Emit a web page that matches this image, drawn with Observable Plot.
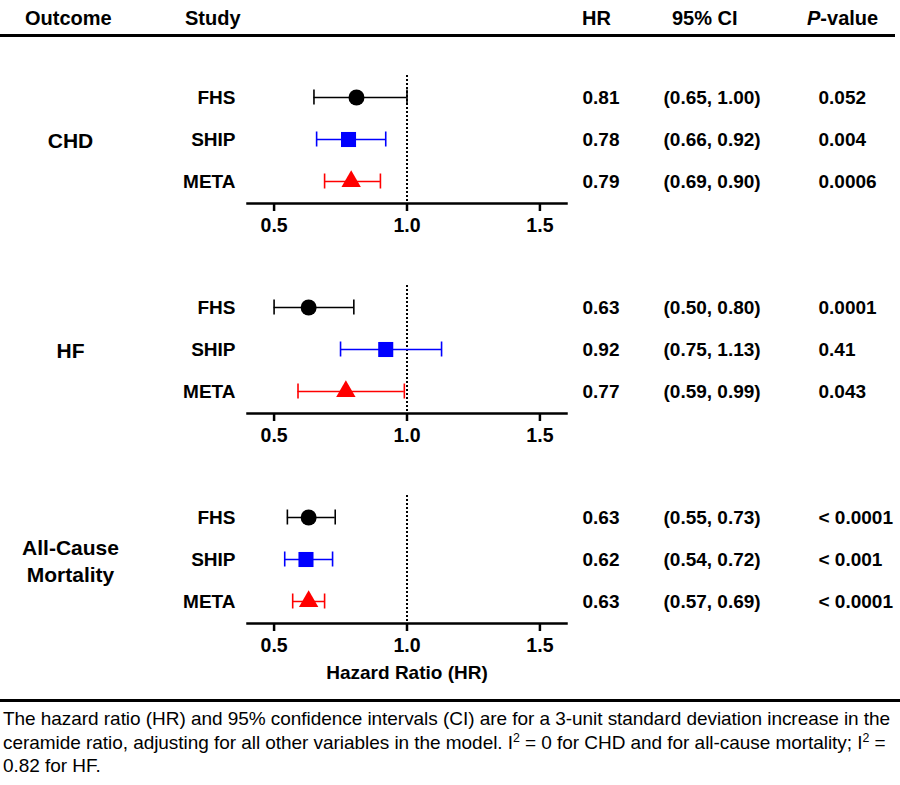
<!DOCTYPE html>
<html><head><meta charset="utf-8">
<script src="https://cdn.jsdelivr.net/npm/d3@7"></script>
<script src="https://cdn.jsdelivr.net/npm/@observablehq/plot@0.6"></script>
<style>
body{margin:0;background:#fff;}
#root{position:relative;width:900px;height:785px;font-family:"Liberation Sans",Arial,sans-serif;color:#000;overflow:hidden;}
.hd{position:absolute;top:7px;font-weight:bold;font-size:20px;line-height:22px;white-space:nowrap;}
.rule{position:absolute;left:0;background:#000;}
.panel{position:absolute;left:0;}
.panel svg{display:block;}
#caption{position:absolute;left:3px;top:707px;font-size:19px;line-height:23.5px;white-space:nowrap;letter-spacing:-0.05px;}
#caption sup{font-size:0.65em;line-height:0;vertical-align:0.55em;}
</style></head><body><div id="root"></div>
<script>
// ---- data ----
const outcomes = ["CHD", "HF", "All-Cause\nMortality"];
const studies = ["FHS", "SHIP", "META"];
const hrValues = [[0.81, 0.78, 0.79], [0.63, 0.92, 0.77], [0.63, 0.62, 0.63]];
const ciLow = [[0.65, 0.66, 0.69], [0.50, 0.75, 0.59], [0.55, 0.54, 0.57]];
const ciHigh = [[1.00, 0.92, 0.90], [0.80, 1.13, 0.99], [0.73, 0.72, 0.69]];
const pValues = [["0.052", "0.004", "0.0006"], ["0.0001", "0.41", "0.043"], ["< 0.0001", "< 0.001", "< 0.0001"]];
const xTicks = [0.5, 1.0, 1.5];
const headers = ["Outcome", "Study", "HR", "95% CI", "<i>P</i>-value"];
const xLabel = "Hazard Ratio (HR)";
const captionLines = [
  "The hazard ratio (HR) and 95% confidence intervals (CI) are for a 3-unit standard deviation increase in the",
  "ceramide ratio, adjusting for all other variables in the model. I<sup>2</sup> = 0 for CHD and for all-cause mortality; I<sup>2</sup> =",
  "0.82 for HF."
];

// ---- layout ----
const root = document.getElementById("root");
const headerX = [25, 185, 582, 672, 807];
headers.forEach((h, i) => {
  const s = document.createElement("span");
  s.className = "hd"; s.style.left = headerX[i] + "px"; s.innerHTML = h;
  root.appendChild(s);
});
const topRule = document.createElement("div");
topRule.className = "rule"; topRule.style.top = "34px"; topRule.style.height = "3px"; topRule.style.width = "895px";
root.appendChild(topRule);

const fontFamily = '"Liberation Sans", Arial, sans-serif';
const colors = ["#000000", "#0000ff", "#ff0000"];
const symbols = ["circle", "square", "triangle"];
const symbolR = [8, 8.5, 7.2];

function panel(k, height, withLabel) {
  const rows = studies.map((s, j) => ({
    study: s, hr: hrValues[k][j], lo: ciLow[k][j], hi: ciHigh[k][j],
    hrText: hrValues[k][j].toFixed(2),
    ciText: `(${ciLow[k][j].toFixed(2)}, ${ciHigh[k][j].toFixed(2)})`,
    p: pValues[k][j]
  }));
  const frameLeft = 247;
  const marks = [
    Plot.ruleX([1], {strokeDasharray: "2,2", strokeWidth: 2, stroke: "#000"}),
    Plot.frame({anchor: "bottom", strokeWidth: 2.5, stroke: "#000"}),
    Plot.axisX({ticks: xTicks, tickFormat: d3.format(".1f"), tickSize: 8, tickPadding: 7, strokeWidth: 2.5, label: null, fontSize: 19.5, fontWeight: "bold"}),
    Plot.axisY({tickSize: 0, tickPadding: 12, label: null, fontSize: 19, fontWeight: "bold"}),
    Plot.ruleY(rows, {y: "study", x1: "lo", x2: "hi", stroke: "study", strokeWidth: 1.6}),
    Plot.tickX(rows, {x: "lo", y: "study", stroke: "study", strokeWidth: 1.6, insetTop: 13.5, insetBottom: 13.5}),
    Plot.tickX(rows, {x: "hi", y: "study", stroke: "study", strokeWidth: 1.6, insetTop: 13.5, insetBottom: 13.5}),
    ...studies.map((s, j) => Plot.dot(rows.filter(d => d.study === s), {x: "hr", y: "study", symbol: symbols[j], r: symbolR[j], fill: "study", stroke: "none"})),
    Plot.text([outcomes[k]], {frameAnchor: "left", dx: 70 - frameLeft, textAnchor: "middle", fontSize: 21, fontWeight: "bold", lineHeight: 1.3}),
    Plot.text(rows, {y: "study", text: "hrText", frameAnchor: "left", dx: 582 - frameLeft, textAnchor: "start", fontSize: 19, fontWeight: "bold"}),
    Plot.text(rows, {y: "study", text: "ciText", frameAnchor: "left", dx: 663 - frameLeft, textAnchor: "start", fontSize: 19, fontWeight: "bold"}),
    Plot.text(rows, {y: "study", text: "p", frameAnchor: "left", dx: 818 - frameLeft, textAnchor: "start", fontSize: 19, fontWeight: "bold"})
  ];
  if (withLabel) marks.push(Plot.text([xLabel], {frameAnchor: "bottom", dy: 49, fontSize: 19, fontWeight: "bold", lineAnchor: "middle"}));
  return Plot.plot({
    width: 900, height,
    marginLeft: frameLeft, marginRight: 900 - 566, marginTop: 35, marginBottom: height - 163,
    x: {domain: [0.4, 1.6]},
    y: {type: "band", domain: studies, padding: 0},
    color: {domain: studies, range: colors},
    style: {fontFamily, fontSize: "19px", fontWeight: "bold", color: "#000", background: "transparent", overflow: "visible"},
    marks
  });
}

const panelHeights = [210, 210, 240];
let panelTop = 40;
panelHeights.forEach((h, k) => {
  const d = document.createElement("div");
  d.className = "panel"; d.style.top = panelTop + "px";
  d.appendChild(panel(k, h, k === 2));
  root.appendChild(d);
  panelTop += h;
});

const botRule = document.createElement("div");
botRule.className = "rule"; botRule.style.top = "699px"; botRule.style.height = "3px"; botRule.style.width = "900px";
root.appendChild(botRule);

const cap = document.createElement("div");
cap.id = "caption"; cap.innerHTML = captionLines.join("<br>");
root.appendChild(cap);
</script></body></html>
